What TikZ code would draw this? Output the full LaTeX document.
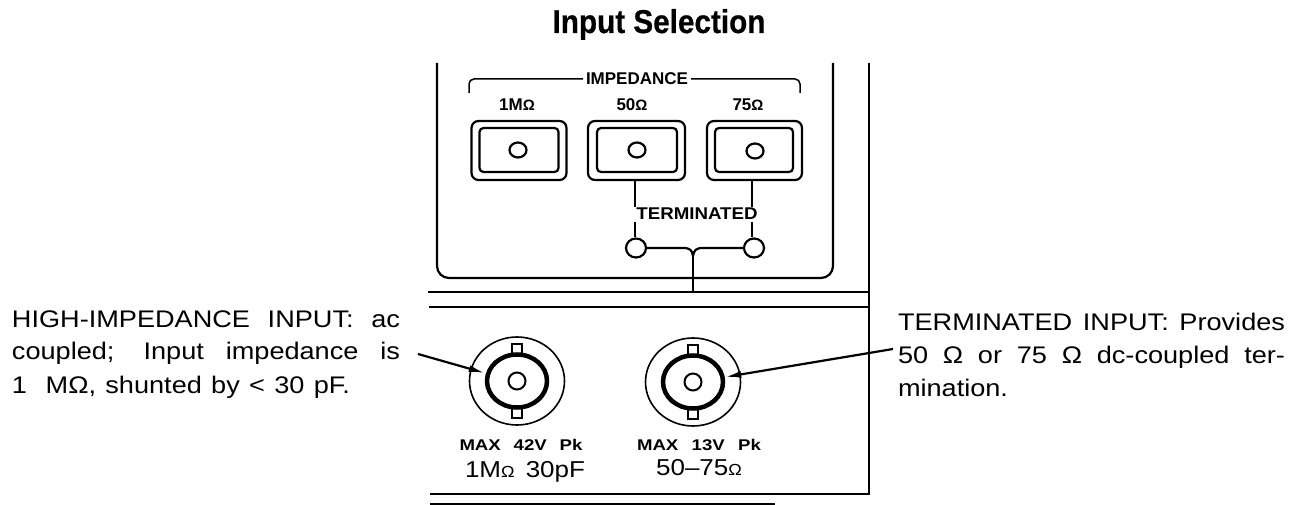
\documentclass[tikz,border=0pt]{standalone}
\usepackage{fontspec}
\usepackage{graphicx}
\setmainfont{Liberation Sans}
\newfontfamily\widefont[FakeStretch=1.13]{Liberation Sans}
\newfontfamily\titlefont[BoldFeatures={FakeBold=0.6}]{Liberation Sans}
\usetikzlibrary{arrows.meta,shapes.geometric}
\newcommand{\smallohm}{{\fontsize{15}{15}\selectfont Ω}}
\newcommand{\valohm}{{\fontsize{16}{16}\selectfont Ω}}
\tikzset{
  x=1pt,y=-1pt,
  ln/.style={line width=2.2pt,black},
  thin ln/.style={line width=1.5pt,black},
  lbl/.style={inner sep=0,outer sep=0,anchor=base},
  desc/.style={inner sep=0,outer sep=0,anchor=base west,font=\fontsize{24}{24}\widefont},
  panel/.style={inner sep=0,outer sep=0,anchor=base,font=\fontsize{17}{17}\selectfont\bfseries},
  maxl/.style={inner sep=0,outer sep=0,anchor=base,font=\fontsize{15.5}{15.5}\selectfont\bfseries},
  val/.style={inner sep=0,outer sep=0,anchor=base,font=\fontsize{23}{23}\widefont},
  btnout/.style={draw,line width=2.2pt,rounded corners=7pt,minimum width=#1,minimum height=59pt,inner sep=0},
  btnin/.style={draw,line width=2.2pt,rounded corners=4pt,minimum width=#1,minimum height=44pt,inner sep=0},
  hole/.style={draw,line width=2.2pt,ellipse,minimum width=#1,minimum height=15pt,inner sep=0},
  lamp/.style={draw,line width=2.2pt,ellipse,minimum width=20pt,minimum height=19pt,inner sep=0},
  bncout/.style={draw,line width=1.6pt,ellipse,minimum width=95pt,minimum height=88pt,inner sep=0},
  bncring/.style={draw,line width=4.5pt,ellipse,minimum width=60pt,minimum height=53pt,inner sep=0},
  bnccore/.style={draw,line width=2pt,circle,minimum size=17pt,inner sep=0},
  tab/.style={draw,line width=1.6pt,fill=white,minimum width=10pt,minimum height=10pt,inner sep=0},
  callout/.style={line width=2.2pt,-{Latex[length=16pt,width=7pt]}},
}
\begin{document}
\begin{tikzpicture}
\useasboundingbox (0,0) rectangle (1298,505);
% title
\node[lbl,anchor=base] (title) at (659,33) {\scalebox{0.9}[1]{\fontsize{33}{33}\titlefont\bfseries Input Selection}};
% panel outline
\coordinate (pTL) at (437,63);
\coordinate (pBL) at (437,278);
\coordinate (pBR) at (833,278);
\coordinate (pTR) at (833,63);
\draw[ln,rounded corners=12pt] (pTL) -- (pBL) -- (pBR) -- (pTR);
% bracket and panel labels
\node[panel,fill=white,inner xsep=3pt] (imp) at (637,85) {IMPEDANCE};
\coordinate (brL) at (469,93);
\coordinate (brR) at (800,93);
\draw[thin ln,rounded corners=5pt] (brL) -- (469,79) -- (imp.west |- 0,79);
\draw[thin ln,rounded corners=5pt] (brR) -- (800,79) -- (imp.east |- 0,79);
\node[panel] (l1) at (517,111) {1M\smallohm};
\node[panel] (l2) at (632,111) {50\smallohm};
\node[panel] (l3) at (748,111) {75\smallohm};
% buttons
\node[btnout=95pt] (b1o) at (519,150.5) {};
\node[btnin=79pt] (b1i) at (519,150) {};
\node[hole=17pt] (b1h) at (518,150) {};
\node[btnout=97pt] (b2o) at (636.5,150.5) {};
\node[btnin=80pt] (b2i) at (637,150) {};
\node[hole=17pt] (b2h) at (637,150) {};
\node[btnout=95pt] (b3o) at (754.5,150.5) {};
\node[btnin=78pt] (b3i) at (754,150) {};
\node[hole=17pt] (b3h) at (755,151) {};
% terminated lamps
\node[panel] (term) at (697,219) {\scalebox{1.1}[1]{TERMINATED}};
\node[lamp] (lp1) at (636,248) {};
\node[lamp] (lp2) at (754,248) {};
\coordinate (j) at (693,256);
\coordinate (stem) at (693,292);
\draw[ln] (b2o.south -| 635,0) -- (635,207);
\draw[ln] (635,222) -- (lp1.north -| 635,0);
\draw[ln] (b3o.south -| 752,0) -- (752,207);
\draw[ln] (752,222) -- (lp2.north -| 752,0);
\draw[ln] (lp1.east) -- (683,248) .. controls (690,248) and (692,250) .. (j);
\draw[ln] (lp2.west) -- (703,248) .. controls (696,248) and (694,250) .. (j);
\draw[ln] (j) -- (stem);
% rules
\coordinate (r1a) at (428,292); \coordinate (r1b) at (869,292);
\coordinate (r2a) at (429,307); \coordinate (r2b) at (869,307);
\coordinate (r3a) at (430,494); \coordinate (r3b) at (869,494);
\coordinate (r4a) at (430,504); \coordinate (r4b) at (775,504);
\coordinate (vt) at (869,63);
\draw[ln] (r1a) -- (r1b);
\draw[ln] (r2a) -- (r2b);
\draw[ln] (r3a) -- (r3b) -- (vt);
\draw[thin ln] (r4a) -- (r4b);
% BNC 1
\node[bncout] (c1) at (517,381) {};
\node[tab] (t1a) at (517,349) {};
\node[tab] (t1b) at (517,413) {};
\node[bncring] (r1) at (517,381) {};
\node[bnccore] (k1) at (517,381) {};
% BNC 2
\node[bncout] (c2) at (693,382) {};
\node[tab] (t2a) at (693,350) {};
\node[tab] (t2b) at (693,414) {};
\node[bncring] (r2) at (693,382) {};
\node[bnccore] (k2) at (693,382) {};
% BNC labels
\node[maxl] (m1) at (521,450) {\scalebox{1.2}[1]{\makebox[102.5pt][s]{MAX 42V Pk}}};
\node[val] (v1) at (525,477) {\makebox[120pt][s]{1M\valohm{} 30pF}};
\node[maxl] (m2) at (699,450) {\scalebox{1.2}[1]{\makebox[103.3pt][s]{MAX 13V Pk}}};
\node[val] (v2) at (699,475) {50–75\valohm};
% descriptions
\node[desc] (d1) at (12,327) {\makebox[388pt][s]{HIGH-IMPEDANCE INPUT: ac}};
\node[desc] (d2) at (12,359) {\makebox[388pt][s]{coupled; Input impedance is}};
\node[desc] (d3) at (12,393) {\makebox[338pt][s]{1\ \ MΩ, shunted by < 30 pF.}};
\node[desc] (e1) at (898,330) {\makebox[387pt][s]{TERMINATED INPUT: Provides}};
\node[desc] (e2) at (898,363) {\makebox[387pt][s]{50 Ω or 75 Ω dc-coupled ter-}};
\node[desc] (e3) at (898,396) {mination.};
% callouts
\coordinate (a1s) at (418,354);
\coordinate (a2s) at (893,349);
\draw[callout] (a1s) -- (r1.west |- 0,373);
\draw[callout] (a2s) -- (r2.east |- 0,377);
\end{tikzpicture}
\end{document}
